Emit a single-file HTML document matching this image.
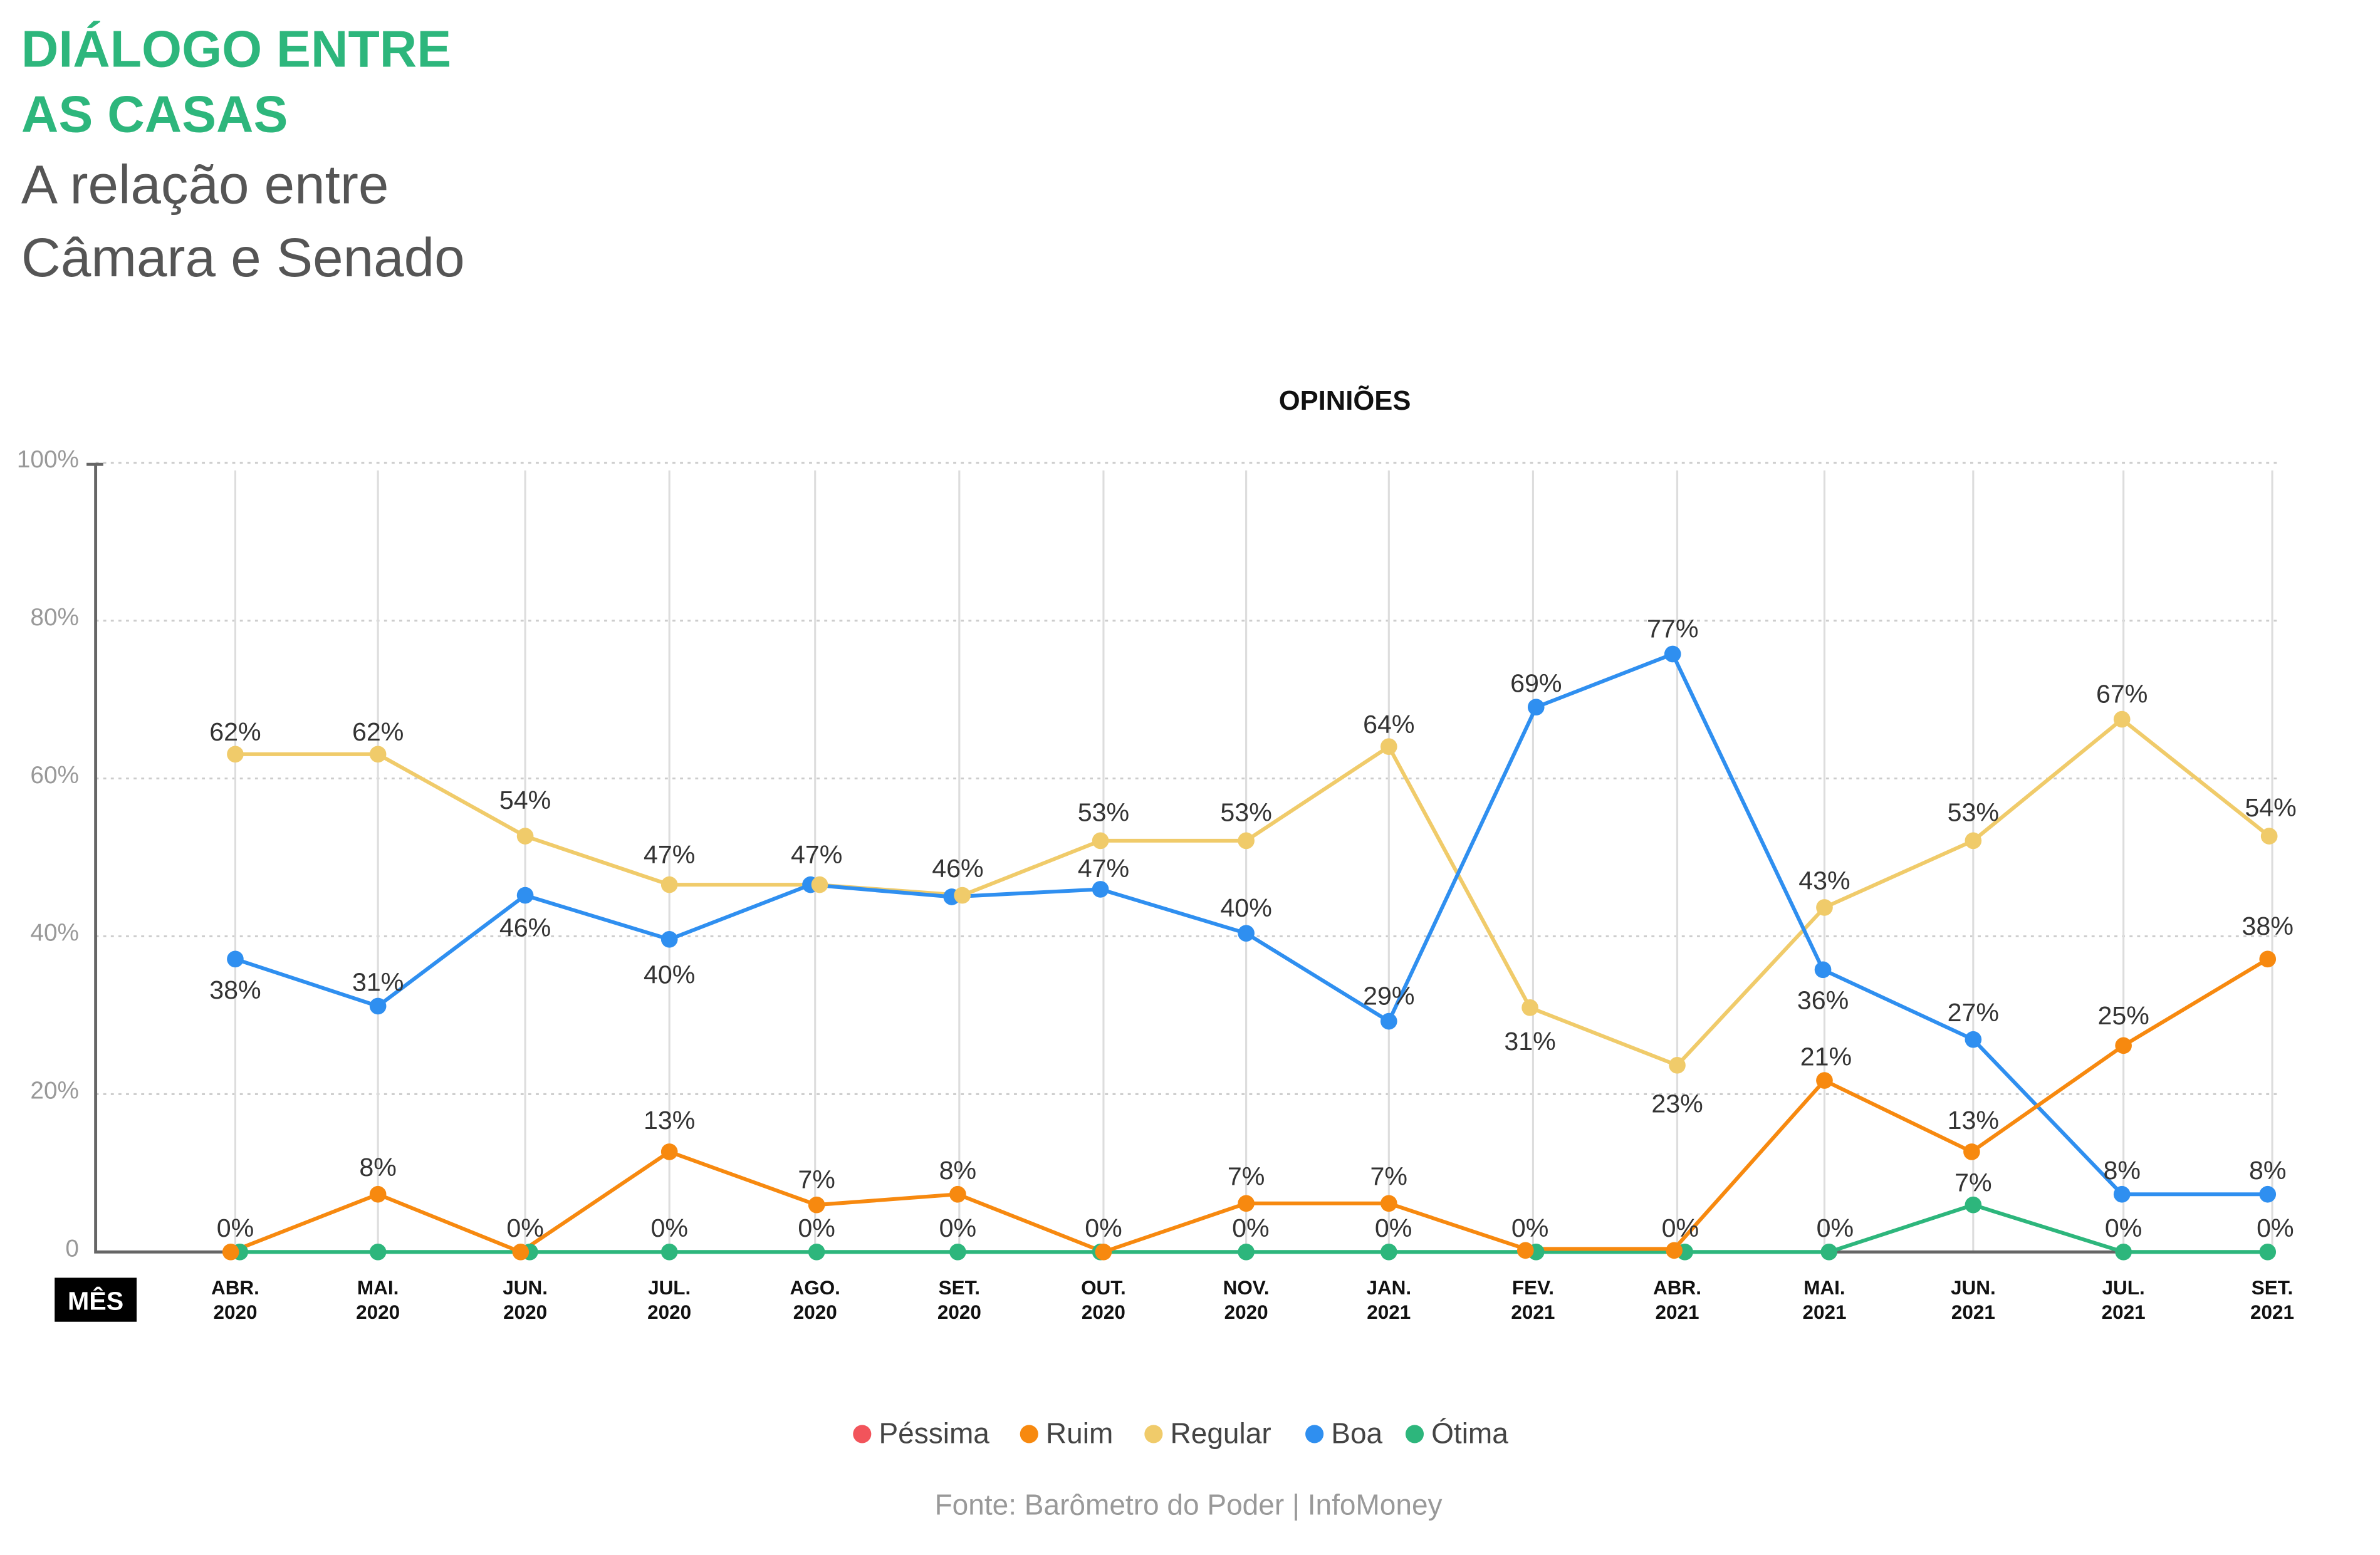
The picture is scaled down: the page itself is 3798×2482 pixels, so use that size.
<!DOCTYPE html>
<html><head><meta charset="utf-8"><style>
html,body{margin:0;padding:0;background:#fff}
svg{display:block}
text{font-family:"Liberation Sans",sans-serif}
.dl{font-size:17px;fill:#333;text-anchor:middle}
.yl{font-size:16px;fill:#999;text-anchor:end}
.xl{font-size:13px;font-weight:bold;fill:#111;text-anchor:middle}
</style></head><body>
<svg width="3798" height="2482" viewBox="0 0 1568 1024.7" xmlns="http://www.w3.org/2000/svg">
<rect width="1568" height="1025" fill="#fff"/>
<text x="14" y="44" font-size="34" font-weight="bold" fill="#2db67c">DIÁLOGO ENTRE</text>
<text x="14" y="87" font-size="34" font-weight="bold" fill="#2db67c">AS CASAS</text>
<text x="14" y="134" font-size="36" fill="#555">A relação entre</text>
<text x="14" y="182" font-size="36" fill="#555">Câmara e Senado</text>
<text x="886" y="270" font-size="18" font-weight="bold" fill="#111" text-anchor="middle">OPINIÕES</text>
<g stroke="#ccc" stroke-width="1.2" stroke-dasharray="2,3">
<line x1="63" y1="305" x2="1500" y2="305"/><line x1="63" y1="409" x2="1500" y2="409"/><line x1="63" y1="513" x2="1500" y2="513"/><line x1="63" y1="617" x2="1500" y2="617"/><line x1="63" y1="721" x2="1500" y2="721"/>
</g>
<g stroke="#ddd" stroke-width="1.3">
<line x1="155" y1="310" x2="155" y2="825"/><line x1="249" y1="310" x2="249" y2="825"/><line x1="346" y1="310" x2="346" y2="825"/><line x1="441" y1="310" x2="441" y2="825"/><line x1="537" y1="310" x2="537" y2="825"/><line x1="632" y1="310" x2="632" y2="825"/><line x1="727" y1="310" x2="727" y2="825"/><line x1="821" y1="310" x2="821" y2="825"/><line x1="915" y1="310" x2="915" y2="825"/><line x1="1010" y1="310" x2="1010" y2="825"/><line x1="1105" y1="310" x2="1105" y2="825"/><line x1="1202" y1="310" x2="1202" y2="825"/><line x1="1300" y1="310" x2="1300" y2="825"/><line x1="1399" y1="310" x2="1399" y2="825"/><line x1="1497" y1="310" x2="1497" y2="825"/>
</g>
<path d="M63 306V825H1400M57 306H68" stroke="#666" stroke-width="2" fill="none"/>
<text class="yl" x="52" y="308">100%</text><text class="yl" x="52" y="412">80%</text><text class="yl" x="52" y="516">60%</text><text class="yl" x="52" y="620">40%</text><text class="yl" x="52" y="724">20%</text><text class="yl" x="52" y="828">0</text>
<polyline fill="none" stroke="#f0cb6a" stroke-width="2.5" points="155,497 249,497 346,551 441,583 538,583 634,590 725,554 821,554 915,492 1008,664 1105,702 1202,598 1300,554 1398,474 1495,551"/>
<polyline fill="none" stroke="#2f8ff0" stroke-width="2.5" points="155,632 249,663 346,590 441,619 534,583 627,591 725,586 821,615 915,673 1012,466 1102,431 1201,639 1300,685 1398,787 1494,787"/>
<polyline fill="none" stroke="#2db67c" stroke-width="2.5" points="158,825 249,825 349,825 441,825 538,825 631,825 725,825 821,825 915,825 1012,825 1110,825 1205,825 1300,794 1399,825 1494,825"/>
<polyline fill="none" stroke="#f7890f" stroke-width="2.5" points="152,825 249,787 343,825 441,759 538,794 631,787 727,825 821,793 915,793 1005,823 1103,823 1202,712 1299,759 1399,689 1494,632"/>
<g fill="#2db67c">
<circle cx="158" cy="825" r="5.5"/><circle cx="249" cy="825" r="5.5"/><circle cx="349" cy="825" r="5.5"/><circle cx="441" cy="825" r="5.5"/><circle cx="538" cy="825" r="5.5"/><circle cx="631" cy="825" r="5.5"/><circle cx="725" cy="825" r="5.5"/><circle cx="821" cy="825" r="5.5"/><circle cx="915" cy="825" r="5.5"/><circle cx="1012" cy="825" r="5.5"/><circle cx="1110" cy="825" r="5.5"/><circle cx="1205" cy="825" r="5.5"/><circle cx="1300" cy="794" r="5.5"/><circle cx="1399" cy="825" r="5.5"/><circle cx="1494" cy="825" r="5.5"/>
</g>
<g fill="#f7890f">
<circle cx="152" cy="825" r="5.5"/><circle cx="249" cy="787" r="5.5"/><circle cx="343" cy="825" r="5.5"/><circle cx="441" cy="759" r="5.5"/><circle cx="538" cy="794" r="5.5"/><circle cx="631" cy="787" r="5.5"/><circle cx="727" cy="825" r="5.5"/><circle cx="821" cy="793" r="5.5"/><circle cx="915" cy="793" r="5.5"/><circle cx="1005" cy="824" r="5.5"/><circle cx="1103" cy="824" r="5.5"/><circle cx="1202" cy="712" r="5.5"/><circle cx="1299" cy="759" r="5.5"/><circle cx="1399" cy="689" r="5.5"/><circle cx="1494" cy="632" r="5.5"/>
</g>
<g fill="#2f8ff0">
<circle cx="155" cy="632" r="5.5"/><circle cx="249" cy="663" r="5.5"/><circle cx="346" cy="590" r="5.5"/><circle cx="441" cy="619" r="5.5"/><circle cx="534" cy="583" r="5.5"/><circle cx="627" cy="591" r="5.5"/><circle cx="725" cy="586" r="5.5"/><circle cx="821" cy="615" r="5.5"/><circle cx="915" cy="673" r="5.5"/><circle cx="1012" cy="466" r="5.5"/><circle cx="1102" cy="431" r="5.5"/><circle cx="1201" cy="639" r="5.5"/><circle cx="1300" cy="685" r="5.5"/><circle cx="1398" cy="787" r="5.5"/><circle cx="1494" cy="787" r="5.5"/>
</g>
<g fill="#f0cb6a">
<circle cx="155" cy="497" r="5.5"/><circle cx="249" cy="497" r="5.5"/><circle cx="346" cy="551" r="5.5"/><circle cx="441" cy="583" r="5.5"/><circle cx="540" cy="583" r="5.5"/><circle cx="634" cy="590" r="5.5"/><circle cx="725" cy="554" r="5.5"/><circle cx="821" cy="554" r="5.5"/><circle cx="915" cy="492" r="5.5"/><circle cx="1008" cy="664" r="5.5"/><circle cx="1105" cy="702" r="5.5"/><circle cx="1202" cy="598" r="5.5"/><circle cx="1300" cy="554" r="5.5"/><circle cx="1398" cy="474" r="5.5"/><circle cx="1495" cy="551" r="5.5"/>
</g>
<g class="dl">
<text x="155" y="488">62%</text><text x="249" y="488">62%</text><text x="346" y="533">54%</text><text x="441" y="569">47%</text><text x="538" y="569">47%</text><text x="631" y="578">46%</text><text x="727" y="541">53%</text><text x="821" y="541">53%</text><text x="915" y="483">64%</text><text x="1008" y="692">31%</text><text x="1105" y="733">23%</text><text x="1202" y="586">43%</text><text x="1300" y="541">53%</text><text x="1398" y="463">67%</text><text x="1496" y="538">54%</text>
<text x="155" y="658">38%</text><text x="249" y="653">31%</text><text x="346" y="617">46%</text><text x="441" y="648">40%</text><text x="727" y="578">47%</text><text x="821" y="604">40%</text><text x="915" y="662">29%</text><text x="1012" y="456">69%</text><text x="1102" y="420">77%</text><text x="1201" y="665">36%</text><text x="1300" y="673">27%</text><text x="1398" y="777">8%</text><text x="1494" y="777">8%</text>
<text x="155" y="815">0%</text><text x="249" y="775">8%</text><text x="346" y="815">0%</text><text x="441" y="744">13%</text><text x="538" y="783">7%</text><text x="631" y="777">8%</text><text x="727" y="815">0%</text><text x="821" y="781">7%</text><text x="915" y="781">7%</text><text x="1008" y="815">0%</text><text x="1107" y="815">0%</text><text x="1203" y="702">21%</text><text x="1300" y="744">13%</text><text x="1399" y="675">25%</text><text x="1494" y="616">38%</text>
<text x="441" y="815">0%</text><text x="538" y="815">0%</text><text x="631" y="815">0%</text><text x="824" y="815">0%</text><text x="918" y="815">0%</text><text x="1209" y="815">0%</text><text x="1300" y="785">7%</text><text x="1399" y="815">0%</text><text x="1499" y="815">0%</text>
</g>
<rect x="36" y="842" width="54" height="29" fill="#000"/>
<text x="63" y="863" font-size="17" font-weight="bold" fill="#fff" text-anchor="middle">MÊS</text>
<g class="xl">
<text x="155" y="853">ABR.</text><text x="155" y="869">2020</text>
<text x="249" y="853">MAI.</text><text x="249" y="869">2020</text>
<text x="346" y="853">JUN.</text><text x="346" y="869">2020</text>
<text x="441" y="853">JUL.</text><text x="441" y="869">2020</text>
<text x="537" y="853">AGO.</text><text x="537" y="869">2020</text>
<text x="632" y="853">SET.</text><text x="632" y="869">2020</text>
<text x="727" y="853">OUT.</text><text x="727" y="869">2020</text>
<text x="821" y="853">NOV.</text><text x="821" y="869">2020</text>
<text x="915" y="853">JAN.</text><text x="915" y="869">2021</text>
<text x="1010" y="853">FEV.</text><text x="1010" y="869">2021</text>
<text x="1105" y="853">ABR.</text><text x="1105" y="869">2021</text>
<text x="1202" y="853">MAI.</text><text x="1202" y="869">2021</text>
<text x="1300" y="853">JUN.</text><text x="1300" y="869">2021</text>
<text x="1399" y="853">JUL.</text><text x="1399" y="869">2021</text>
<text x="1497" y="853">SET.</text><text x="1497" y="869">2021</text>
</g>
<g font-size="19" fill="#444">
<circle cx="568" cy="945" r="6" fill="#f2545b"/><text x="579" y="951">Péssima</text>
<circle cx="678" cy="945" r="6" fill="#f7890f"/><text x="689" y="951">Ruim</text>
<circle cx="760" cy="945" r="6" fill="#f0cb6a"/><text x="771" y="951">Regular</text>
<circle cx="866" cy="945" r="6" fill="#2f8ff0"/><text x="877" y="951">Boa</text>
<circle cx="932" cy="945" r="6" fill="#2db67c"/><text x="943" y="951">Ótima</text>
</g>
<text x="783" y="998" font-size="19" fill="#999" text-anchor="middle">Fonte: Barômetro do Poder | InfoMoney</text>
</svg>
</body></html>
